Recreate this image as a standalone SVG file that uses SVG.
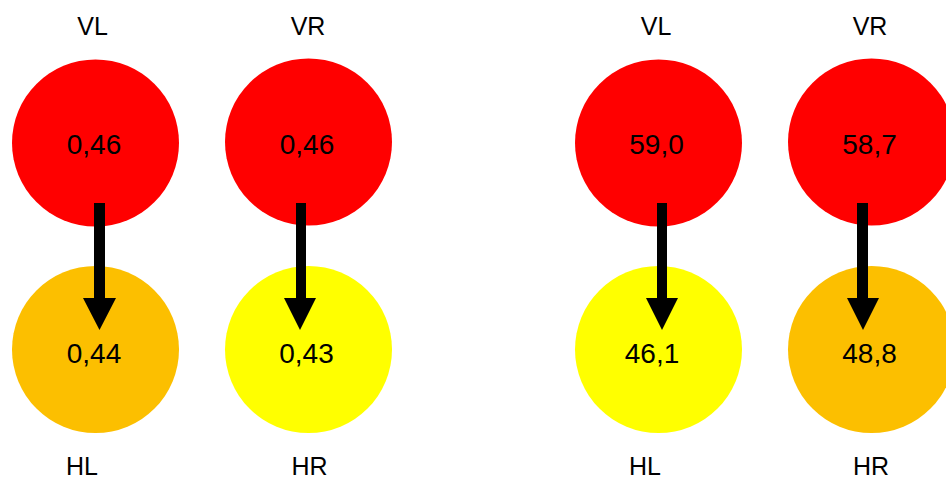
<svg xmlns="http://www.w3.org/2000/svg" width="946" height="481" viewBox="0 0 946 481">
<style>
.bg{fill:#ffffff}
.red{fill:#ff0000}
.orange{fill:#fcbf00}
.yellow{fill:#ffff00}
.lbl{font-family:"Liberation Sans",Arial,sans-serif;font-size:25px;fill:#000;text-anchor:middle}
.num{font-family:"Liberation Sans",Arial,sans-serif;font-size:28px;fill:#000;text-anchor:middle}
.arr{fill:#000}
</style>
<rect class="bg" x="0" y="0" width="946" height="481"/>
<g id="VL1"><text class="lbl" x="92.5" y="35">VL</text><circle class="red" cx="95.5" cy="143" r="83.5"/><text class="num" x="94" y="154">0,46</text></g>
<g id="HL1"><circle class="orange" cx="95.5" cy="349.5" r="83.5"/><text class="num" x="94" y="363">0,44</text><text class="lbl" x="82" y="475">HL</text></g>
<g id="VR1"><text class="lbl" x="308" y="35">VR</text><circle class="red" cx="308.5" cy="142" r="83.5"/><text class="num" x="307" y="154">0,46</text></g>
<g id="HR1"><circle class="yellow" cx="308.5" cy="349.5" r="83.5"/><text class="num" x="306.5" y="363">0,43</text><text class="lbl" x="309.5" y="475">HR</text></g>
<g id="VL2"><text class="lbl" x="656" y="35">VL</text><circle class="red" cx="658.5" cy="143" r="83.5"/><text class="num" x="656.5" y="154">59,0</text></g>
<g id="HL2"><circle class="yellow" cx="658.5" cy="349.5" r="83.5"/><text class="num" x="652" y="363">46,1</text><text class="lbl" x="645" y="475">HL</text></g>
<g id="VR2"><text class="lbl" x="870" y="35">VR</text><circle class="red" cx="871.5" cy="142" r="83.5"/><text class="num" x="869.5" y="154">58,7</text></g>
<g id="HR2"><circle class="orange" cx="871.5" cy="349.5" r="83.5"/><text class="num" x="869.5" y="363">48,8</text><text class="lbl" x="871" y="475">HR</text></g>
<g id="connectors">
<path class="arr" d="M94,203 H105 V298 H116 L99.5,330 L83,298 H94 Z"/>
<path class="arr" d="M296,203 H306 V298 H316 L300,330 L284,298 H296 Z"/>
<path class="arr" d="M657,203 H667 V298 H678 L662,330 L646,298 H657 Z"/>
<path class="arr" d="M857,203 H868 V298 H879 L863,330 L847,298 H857 Z"/>
</g>
</svg>
